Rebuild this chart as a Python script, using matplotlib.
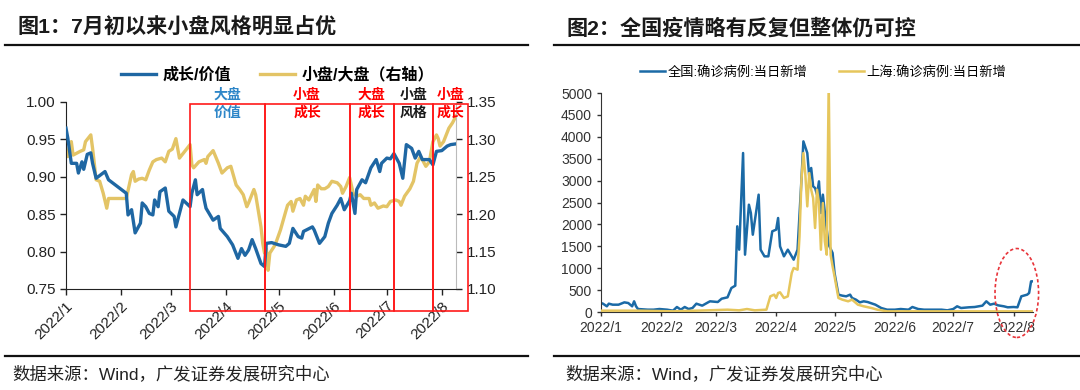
import pandas as pd
import matplotlib
matplotlib.use('Agg')
import matplotlib.pyplot as plt
import matplotlib.transforms as mtransforms
from matplotlib.patches import Rectangle, Ellipse
from matplotlib.lines import Line2D

plt.rcParams['font.family'] = ['Liberation Sans', 'Noto Sans CJK SC', 'DejaVu Sans']

# 图1：成长/价值（左轴）
gv_dates = ['01-01', '01-02', '01-04', '01-07', '01-08', '01-10', '01-11', '01-13', '01-15', '01-16',
            '01-18', '01-23', '01-25', '02-04', '02-05', '02-07', '02-09', '02-12', '02-13', '02-15',
            '02-17', '02-19', '02-20', '02-22', '02-23', '02-26', '02-28', '03-03', '03-04', '03-08',
            '03-12', '03-13', '03-15', '03-16', '03-19', '03-20', '03-21', '03-25', '03-28', '03-29',
            '04-02', '04-05', '04-08', '04-10', '04-12', '04-14', '04-16', '04-18', '04-21', '04-23',
            '04-24', '04-27', '05-01', '05-05', '05-07', '05-09', '05-12', '05-14', '05-15', '05-20',
            '05-21', '05-24', '05-27', '05-29', '05-31', '06-03', '06-05', '06-07', '06-10', '06-11',
            '06-13', '06-14', '06-17', '06-19', '06-22', '06-25', '06-27', '06-28', '07-01', '07-03',
            '07-05', '07-08', '07-10', '07-12', '07-15', '07-17', '07-19', '07-21', '07-25', '07-27',
            '07-29', '08-01', '08-04', '08-06', '08-09']
gv_values = [0.965, 0.952, 0.918, 0.918, 0.905, 0.920, 0.910, 0.930, 0.932, 0.918,
             0.898, 0.907, 0.896, 0.878, 0.849, 0.856, 0.825, 0.838, 0.865, 0.860,
             0.851, 0.849, 0.869, 0.860, 0.880, 0.885, 0.854, 0.847, 0.833, 0.869,
             0.860, 0.878, 0.896, 0.876, 0.883, 0.869, 0.858, 0.842, 0.847, 0.831,
             0.820, 0.809, 0.791, 0.804, 0.795, 0.802, 0.816, 0.804, 0.784, 0.780,
             0.811, 0.812, 0.809, 0.807, 0.811, 0.831, 0.820, 0.818, 0.827, 0.833,
             0.829, 0.811, 0.820, 0.838, 0.851, 0.862, 0.871, 0.856, 0.868, 0.878,
             0.851, 0.883, 0.896, 0.892, 0.912, 0.923, 0.907, 0.918, 0.925, 0.924,
             0.931, 0.918, 0.898, 0.943, 0.938, 0.925, 0.934, 0.923, 0.923, 0.916,
             0.934, 0.935, 0.941, 0.943, 0.944]

# 图1：小盘/大盘（右轴）
sl_dates = ['01-01', '01-02', '01-04', '01-05', '01-09', '01-11', '01-12', '01-15', '01-16', '01-18',
            '01-20', '01-22', '01-24', '01-25', '02-04', '02-07', '02-08', '02-09', '02-11', '02-13',
            '02-15', '02-17', '02-19', '02-21', '02-24', '02-26', '02-28', '03-02', '03-04', '03-06',
            '03-09', '03-12', '03-13', '03-14', '03-17', '03-20', '03-21', '03-22', '03-25', '03-28',
            '03-30', '04-02', '04-04', '04-07', '04-09', '04-11', '04-13', '04-14', '04-15', '04-17',
            '04-18', '04-21', '04-22', '04-23', '04-24', '04-25', '04-26', '04-29', '05-02', '05-05',
            '05-06', '05-08', '05-09', '05-11', '05-13', '05-15', '05-16', '05-18', '05-21', '05-22',
            '05-23', '05-25', '05-27', '05-29', '05-31', '06-03', '06-05', '06-06', '06-08', '06-10',
            '06-12', '06-14', '06-16', '06-18', '06-21', '06-22', '06-24', '06-26', '06-29', '07-01',
            '07-03', '07-06', '07-08', '07-09', '07-11', '07-14', '07-16', '07-18', '07-20', '07-21',
            '07-23', '07-25', '07-27', '07-29', '07-30', '07-31', '08-02', '08-05', '08-07', '08-09']
sl_values = [1.288, 1.277, 1.297, 1.279, 1.284, 1.286, 1.297, 1.306, 1.288, 1.246,
             1.244, 1.228, 1.208, 1.221, 1.221, 1.253, 1.257, 1.244, 1.247, 1.248,
             1.246, 1.259, 1.270, 1.273, 1.275, 1.270, 1.284, 1.287, 1.301, 1.275,
             1.284, 1.293, 1.266, 1.262, 1.270, 1.273, 1.268, 1.277, 1.285, 1.268,
             1.255, 1.262, 1.264, 1.239, 1.233, 1.226, 1.210, 1.215, 1.221, 1.233,
             1.226, 1.183, 1.161, 1.148, 1.154, 1.125, 1.148, 1.159, 1.179, 1.204,
             1.212, 1.217, 1.204, 1.219, 1.221, 1.212, 1.224, 1.219, 1.233, 1.217,
             1.239, 1.234, 1.234, 1.237, 1.244, 1.242, 1.237, 1.228, 1.237, 1.249,
             1.228, 1.224, 1.226, 1.221, 1.221, 1.212, 1.215, 1.208, 1.211, 1.210,
             1.217, 1.219, 1.217, 1.212, 1.224, 1.234, 1.244, 1.268, 1.277, 1.273,
             1.264, 1.270, 1.297, 1.306, 1.301, 1.291, 1.297, 1.315, 1.322, 1.331]

# 风格阶段划分
phase_edges = ['03-12', '04-23', '06-10', '07-05', '07-27', '08-16']
phase_top = ['大盘', '小盘', '大盘', '小盘', '小盘']
phase_bottom = ['价值', '成长', '成长', '风格', '成长']
phase_colors = ['#2e86c8', '#ff0000', '#ff0000', '#1a1a1a', '#ff0000']

# 图2：全国确诊病例当日新增
cn_dates = ['01-01', '01-02', '01-04', '01-05', '01-07', '01-10', '01-13', '01-15', '01-16', '01-17',
            '01-18', '01-19', '01-20', '01-25', '01-28', '01-31', '02-04', '02-07', '02-09', '02-11',
            '02-13', '02-15', '02-17', '02-19', '02-22', '02-25', '02-26', '03-02', '03-04', '03-07',
            '03-09', '03-11', '03-12', '03-13', '03-15', '03-16', '03-18', '03-19', '03-20', '03-23',
            '03-24', '03-26', '03-28', '03-30', '04-01', '04-02', '04-03', '04-05', '04-07', '04-09',
            '04-10', '04-12', '04-14', '04-15', '04-17', '04-18', '04-19', '04-20', '04-21', '04-22',
            '04-23', '04-24', '04-25', '04-27', '04-28', '04-30', '05-01', '05-03', '05-05', '05-07',
            '05-09', '05-10', '05-12', '05-14', '05-16', '05-18', '05-22', '05-25', '05-28', '06-01',
            '06-04', '06-08', '06-10', '06-13', '06-16', '06-21', '06-25', '06-28', '07-01', '07-03',
            '07-05', '07-09', '07-12', '07-16', '07-18', '07-20', '07-22', '07-24', '07-27', '07-29',
            '08-01', '08-03', '08-05', '08-08', '08-09', '08-10', '08-11']
cn_values = [205, 190, 130, 190, 167, 167, 220, 205, 167, 130,
             244, 130, 68, 53, 53, 68, 53, 30, 114, 53,
             114, 68, 91, 190, 145, 220, 244, 228, 304, 335,
             548, 601, 1956, 1423, 3630, 1309, 2450, 2260, 1765, 2679,
             1423, 1271, 1271, 1842, 1880, 2146, 1499, 1271, 1423, 1271,
             1195, 1423, 3021, 3896, 3630, 3097, 3288, 2869, 2831, 2679,
             2983, 2260, 2679, 1880, 1537, 1347, 890, 396, 373, 358,
             396, 320, 282, 220, 244, 228, 167, 91, 53, 53,
             68, 53, 114, 68, 53, 53, 53, 38, 68, 130,
             91, 107, 114, 145, 244, 167, 190, 152, 130, 107,
             114, 107, 358, 396, 434, 700, 700]

# 图2：上海确诊病例当日新增
sh_dates = ['01-01', '01-21', '02-07', '02-25', '03-07', '03-13', '03-17', '03-21', '03-27', '03-29',
            '03-31', '04-01', '04-02', '04-03', '04-05', '04-07', '04-09', '04-10', '04-12', '04-13',
            '04-14', '04-15', '04-16', '04-17', '04-18', '04-19', '04-20', '04-21', '04-22', '04-23',
            '04-24', '04-25', '04-26', '04-27', '04-28', '04-29', '04-30', '05-01', '05-03', '05-05',
            '05-08', '05-10', '05-13', '05-16', '05-20', '05-23', '05-28', '06-08', '08-11']
sh_values = [30, 30, 15, 38, 53, 38, 68, 38, 53, 358,
             396, 320, 434, 449, 320, 358, 890, 1005, 966, 1728,
             3021, 3630, 3135, 2412, 3173, 2793, 2603, 1918, 2793, 2488,
             1423, 2488, 1613, 1309, 5200, 1300, 1043, 814, 320, 282,
             244, 282, 167, 130, 91, 53, 15, 15, 15]

month_ticks = pd.date_range('2022-01-01', '2022-08-01', freq='MS')
month_labels = [f'2022/{d.month}' for d in month_ticks]


def to_dt(lst):
    return pd.to_datetime(['2022-' + s for s in lst])


fig = plt.figure(figsize=(10.8, 3.9), dpi=100)

# 标题、分割线、脚注
fig.text(0.016, 0.928, '图1：7月初以来小盘风格明显占优', fontsize=15.2, fontweight='bold',
         color='#1a1a1a', va='center')
fig.text(0.525, 0.928, '图2：全国疫情略有反复但整体仍可控', fontsize=15.2, fontweight='bold',
         color='#1a1a1a', va='center')
for x0, x1 in [(0.005, 0.489), (0.513, 1.0)]:
    fig.add_artist(Line2D([x0, x1], [0.885, 0.885], color='#111111', lw=1.6))
    fig.add_artist(Line2D([x0, x1], [0.087, 0.087], color='#111111', lw=1.6))
fig.text(0.011, 0.043, '数据来源：Wind，广发证券发展研究中心', fontsize=12.5, color='#222222', va='center')
fig.text(0.523, 0.043, '数据来源：Wind，广发证券发展研究中心', fontsize=12.5, color='#222222', va='center')

# ---------- 图1 ----------
ax1 = fig.add_axes([0.0611, 0.259, 0.3611, 0.4795])
ax1r = ax1.twinx()
blue1 = '#1f67a3'
yellow1 = '#e3c466'
l1, = ax1.plot(to_dt(gv_dates), gv_values, color=blue1, lw=2.4, label='成长/价值', zorder=3)
l2, = ax1r.plot(to_dt(sl_dates), sl_values, color=yellow1, lw=2.4, label='小盘/大盘（右轴）', zorder=2)
ax1.set_zorder(ax1r.get_zorder() + 1)
ax1.patch.set_visible(False)

ax1.set_xlim(pd.Timestamp('2022-01-01'), pd.Timestamp('2022-08-09'))
ax1.set_ylim(0.75, 1.00)
ax1r.set_ylim(1.10, 1.35)
ax1.set_yticks([0.75, 0.80, 0.85, 0.90, 0.95, 1.00])
ax1.set_yticklabels([f'{v:.2f}' for v in [0.75, 0.80, 0.85, 0.90, 0.95, 1.00]])
ax1r.set_yticks([1.10, 1.15, 1.20, 1.25, 1.30, 1.35])
ax1r.set_yticklabels([f'{v:.2f}' for v in [1.10, 1.15, 1.20, 1.25, 1.30, 1.35]])
ax1.set_xticks(month_ticks)
ax1.set_xticklabels(month_labels, rotation=45, ha='right', rotation_mode='anchor')
for a in (ax1, ax1r):
    a.spines['top'].set_visible(False)
    a.tick_params(labelsize=11, colors='#222222', length=4, width=1)
ax1.spines['right'].set_visible(False)
ax1r.spines['left'].set_visible(False)
ax1r.spines['bottom'].set_visible(False)
ax1r.spines['right'].set_color('#bbbbbb')
ax1.spines['left'].set_color('#222222')
ax1.spines['bottom'].set_color('#222222')
ax1.tick_params(axis='x', pad=3)

trans1 = mtransforms.blended_transform_factory(ax1.transData, ax1.transAxes)
edges = to_dt(phase_edges)
for i in range(len(phase_top)):
    x0 = matplotlib.dates.date2num(edges[i])
    x1 = matplotlib.dates.date2num(edges[i + 1])
    ax1.add_patch(Rectangle((x0, -0.118), x1 - x0, 1.107, transform=trans1, fill=False,
                            edgecolor='#ff1a1a', lw=1.2, clip_on=False, zorder=4))
    xm = (x0 + x1) / 2
    ax1.text(xm, 1.037, phase_top[i], transform=trans1, ha='center', va='center',
             fontsize=10, fontweight='bold', color=phase_colors[i], clip_on=False)
    ax1.text(xm, 0.94, phase_bottom[i], transform=trans1, ha='center', va='center',
             fontsize=10, fontweight='bold', color=phase_colors[i], clip_on=False)

fig.legend(handles=[l1, l2], loc='center', bbox_to_anchor=(0.257, 0.808), ncol=2, frameon=False,
           prop={'size': 11.5, 'weight': 'bold'}, handlelength=2.2, handletextpad=0.4,
           columnspacing=1.8)

# ---------- 图2 ----------
ax2 = fig.add_axes([0.5565, 0.2, 0.4, 0.5615])
blue2 = '#1b6aa6'
yellow2 = '#e6c65c'
m1, = ax2.plot(to_dt(cn_dates), cn_values, color=blue2, lw=1.8, label='全国:确诊病例:当日新增', zorder=2)
m2, = ax2.plot(to_dt(sh_dates), sh_values, color=yellow2, lw=1.8, label='上海:确诊病例:当日新增', zorder=3)
ax2.set_xlim(pd.Timestamp('2022-01-01'), pd.Timestamp('2022-08-11'))
ax2.set_ylim(0, 5000)
ax2.set_yticks(range(0, 5001, 500))
ax2.set_xticks(month_ticks)
ax2.set_xticklabels(month_labels)
for s in ('top', 'right'):
    ax2.spines[s].set_visible(False)
ax2.spines['left'].set_color('#333333')
ax2.spines['bottom'].set_color('#333333')
ax2.tick_params(labelsize=10, colors='#333333', length=3, width=1)
for lab in ax2.get_xticklabels() + ax2.get_yticklabels():
    lab.set_family(['Liberation Sans Narrow', 'Liberation Sans'])

ell_center = matplotlib.dates.date2num(pd.Timestamp('2022-08-02 16:00'))
ax2.add_patch(Ellipse((ell_center, 434), 22.4, 2030, fill=False, edgecolor='#e8343a',
                      lw=1.2, ls=(0, (2, 1.5)), clip_on=False, zorder=4))

fig.legend(handles=[m1, m2], loc='center', bbox_to_anchor=(0.762, 0.815), ncol=2, frameon=False,
           prop={'size': 9.5}, handlelength=1.9, handletextpad=0.2, columnspacing=2.4)

fig.savefig('out.png', dpi=100)
